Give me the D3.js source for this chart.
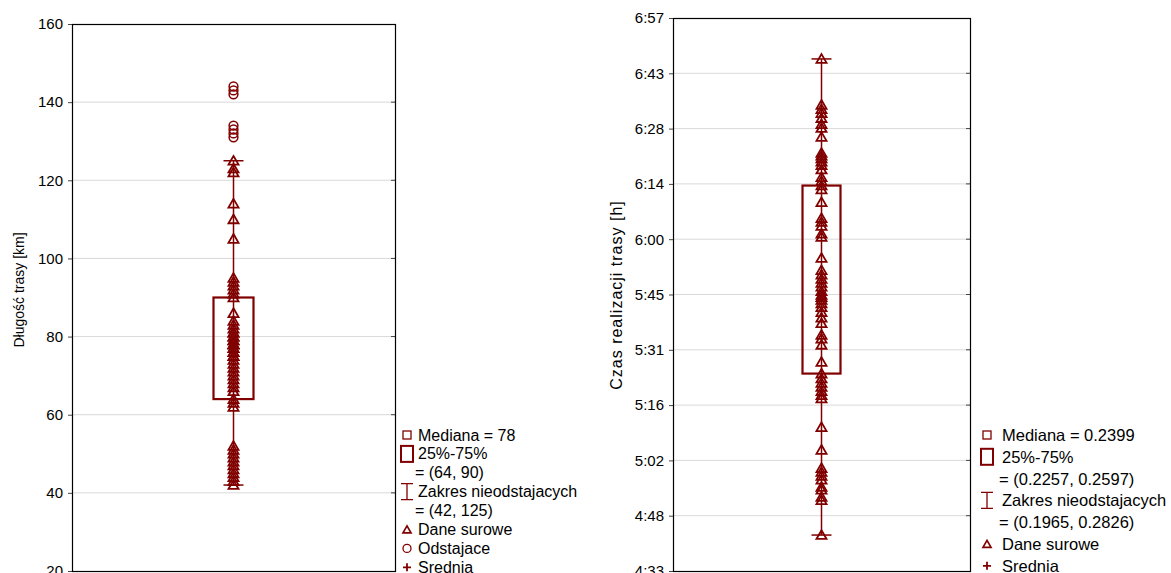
<!DOCTYPE html>
<html>
<head>
<meta charset="utf-8">
<script src="https://cdn.jsdelivr.net/npm/d3@7/dist/d3.min.js"></script>
<style>
  html, body { margin: 0; padding: 0; background: #fff; }
  svg { display: block; font-family: "Liberation Sans", Arial, sans-serif; }
</style>
</head>
<body>
<svg id="chart" width="1171" height="573"></svg>
<script>
// Route length [km]: whisker-range raw values and outliers
const lengthRaw = [125, 123, 122, 114, 110, 105, 95, 94, 93, 92, 91, 90, 86, 84, 83, 82, 81, 81,
  80, 80, 79, 79, 78, 78, 78, 77, 77, 76, 76, 75, 75, 74, 73, 72, 71, 70, 69, 68, 67, 66,
  64, 63, 62, 52, 51, 50, 49, 48, 47, 46, 45, 44, 43, 42];
const lengthOutliers = [144, 143, 142, 134, 133, 132, 131];
const lengthStats = { median: 78, q1: 64, q3: 90, lo: 42, hi: 125, mean: 79 };
const lengthTicks = [20, 40, 60, 80, 100, 120, 140, 160];

// Route completion time as a fraction of a day
const timeRaw = [0.2826, 0.2743, 0.2735, 0.2728, 0.2719, 0.2708, 0.2701, 0.2685, 0.2656, 0.2651,
  0.2646, 0.2640, 0.2634, 0.2626, 0.2612, 0.2605, 0.2597, 0.2590, 0.2567, 0.2538, 0.2531, 0.2524,
  0.2510, 0.2504, 0.2466, 0.2444, 0.2436, 0.2428, 0.2421, 0.2414, 0.2406, 0.2399, 0.2395, 0.2390,
  0.2384, 0.2377, 0.2368, 0.2358, 0.2348, 0.2327, 0.2320, 0.2309, 0.2278, 0.2257, 0.2248, 0.2240,
  0.2233, 0.2225, 0.2218, 0.2212, 0.2160, 0.2119, 0.2086, 0.2079, 0.2072, 0.2065, 0.2052, 0.2047,
  0.2034, 0.2028, 0.1965];
const timeOutliers = [];
const timeStats = { median: 0.2399, q1: 0.2257, q3: 0.2597, lo: 0.1965, hi: 0.2826, mean: 0.2405 };
const timeTicks = [0.19, 0.20, 0.21, 0.22, 0.23, 0.24, 0.25, 0.26, 0.27, 0.28, 0.29];

const legendLength = [
  { sym: "median", lines: ["Mediana = 78"] },
  { sym: "box", lines: ["25%-75%", "= (64, 90)"] },
  { sym: "whisker", lines: ["Zakres nieodstajacych", "= (42, 125)"] },
  { sym: "tri", lines: ["Dane surowe"] },
  { sym: "circle", lines: ["Odstajace"] },
  { sym: "plus", lines: ["Srednia"] }
];
const legendTime = [
  { sym: "median", lines: ["Mediana = 0.2399"] },
  { sym: "box", lines: ["25%-75%", "= (0.2257, 0.2597)"] },
  { sym: "whisker", lines: ["Zakres nieodstajacych", "= (0.1965, 0.2826)"] },
  { sym: "tri", lines: ["Dane surowe"] },
  { sym: "plus", lines: ["Srednia"] }
];

const RED = "#800000";
const svg = d3.select("#chart");

const fmtTime = v => {
  const m = Math.floor(v * 1440 + 1e-6);
  return Math.floor(m / 60) + ":" + String(m % 60).padStart(2, "0");
};

const triPath = d3.symbol().type(d3.symbolTriangle).size(44)();

function drawPanel(cfg) {
  const g = svg.append("g");
  const y = d3.scaleLinear().domain(cfg.domain).range([cfg.bottom, cfg.top]);
  const x = d3.scalePoint().domain(["v"]).range([cfg.left, cfg.right]).padding(0.5);
  const cx = x("v");

  // grid
  g.append("g").selectAll("line").data(cfg.ticks.slice(1, -1)).join("line")
    .attr("x1", cfg.left).attr("x2", cfg.right)
    .attr("y1", d => y(d)).attr("y2", d => y(d))
    .attr("stroke", "#d9d9d9").attr("stroke-width", 1);

  // left axis
  const axis = d3.axisLeft(y).tickValues(cfg.ticks).tickSize(4).tickPadding(5)
    .tickFormat(cfg.fmt);
  const ag = g.append("g").attr("transform", `translate(${cfg.left},0)`).call(axis);
  ag.select(".domain").remove();
  ag.selectAll(".tick line").attr("stroke", "#444");
  ag.selectAll(".tick text").attr("font-size", 15).attr("fill", "#000")
    .attr("font-family", "Liberation Sans, Arial, sans-serif");

  // right side inner ticks
  g.append("g").selectAll("line").data(cfg.ticks.slice(1, -1)).join("line")
    .attr("x1", cfg.right - 4).attr("x2", cfg.right)
    .attr("y1", d => y(d)).attr("y2", d => y(d))
    .attr("stroke", "#444");

  // frame
  g.append("rect").attr("x", cfg.left + 0.5).attr("y", cfg.top + 0.5)
    .attr("width", cfg.right - cfg.left).attr("height", cfg.bottom - cfg.top)
    .attr("fill", "none").attr("stroke", "#000").attr("stroke-width", 1.2);

  // y title
  g.append("text").attr("transform", `translate(${cfg.titleX},${cfg.titleY}) rotate(-90)`)
    .attr("text-anchor", "middle").attr("dominant-baseline", "central")
    .attr("font-size", cfg.titleSize).attr("letter-spacing", cfg.titleSpacing)
    .text(cfg.title);

  const s = cfg.stats;
  // whisker
  g.append("line").attr("x1", cx).attr("x2", cx).attr("y1", y(s.lo)).attr("y2", y(s.hi))
    .attr("stroke", RED).attr("stroke-width", 1.5);
  g.selectAll(".cap").data([s.lo, s.hi]).join("line")
    .attr("x1", cx - 10).attr("x2", cx + 10).attr("y1", d => y(d)).attr("y2", d => y(d))
    .attr("stroke", RED).attr("stroke-width", 1.5);
  // box
  g.append("rect").attr("x", cx - cfg.boxW / 2).attr("y", y(s.q3))
    .attr("width", cfg.boxW).attr("height", y(s.q1) - y(s.q3))
    .attr("fill", "none").attr("stroke", RED).attr("stroke-width", 2.2);
  // median and mean
  g.append("rect").attr("x", cx - 3).attr("y", y(s.median) - 3).attr("width", 6).attr("height", 6)
    .attr("fill", "none").attr("stroke", RED).attr("stroke-width", 1.2);
  g.append("path").attr("d", `M${cx - 4},${y(s.mean)}h8M${cx},${y(s.mean) - 4}v8`)
    .attr("stroke", RED).attr("stroke-width", 1.5);

  // raw data
  g.append("g").selectAll("path").data(cfg.raw).join("path")
    .attr("d", triPath).attr("transform", d => `translate(${cx},${y(d) + 1})`)
    .attr("fill", "none").attr("stroke", RED).attr("stroke-width", 1.8);
  // outliers
  g.append("g").selectAll("circle").data(cfg.outliers).join("circle")
    .attr("cx", cx).attr("cy", d => y(d)).attr("r", 4.4)
    .attr("fill", "none").attr("stroke", RED).attr("stroke-width", 1.5);

  // legend
  const lg = g.append("g").attr("font-size", cfg.legendSize);
  let ly = cfg.legendY;
  cfg.legend.forEach(item => {
    const mx = cfg.legendMarkX;
    const sg = lg.append("g").attr("transform", `translate(${mx},${ly})`);
    if (item.sym === "median") {
      sg.append("rect").attr("x", -4).attr("y", -4).attr("width", 8).attr("height", 8)
        .attr("fill", "none").attr("stroke", RED).attr("stroke-width", 1.3);
    } else if (item.sym === "box") {
      sg.append("rect").attr("x", -6).attr("y", -8).attr("width", 12).attr("height", 16)
        .attr("fill", "none").attr("stroke", RED).attr("stroke-width", 2);
    } else if (item.sym === "whisker") {
      sg.append("path").attr("d", "M-6,-8h12M0,-8v16M-6,8h12")
        .attr("fill", "none").attr("stroke", RED).attr("stroke-width", 1.3);
    } else if (item.sym === "tri") {
      sg.append("path").attr("d", d3.symbol().type(d3.symbolTriangle).size(28)())
        .attr("transform", "translate(0,1)")
        .attr("fill", "none").attr("stroke", RED).attr("stroke-width", 1.7);
    } else if (item.sym === "circle") {
      sg.append("circle").attr("r", 4).attr("fill", "none").attr("stroke", RED).attr("stroke-width", 1.3);
    } else if (item.sym === "plus") {
      sg.append("path").attr("d", "M-4,0h8M0,-4v8").attr("stroke", RED).attr("stroke-width", 1.8);
    }
    item.lines.forEach((t, i) => {
      lg.append("text").attr("x", i === 0 ? cfg.legendTextX : cfg.legendTextX - 3)
        .attr("y", ly + i * cfg.legendStep).attr("dominant-baseline", "central").text(t);
    });
    ly += item.lines.length * cfg.legendStep;
  });
}

drawPanel({
  domain: [20, 160], ticks: lengthTicks, fmt: d3.format("d"),
  left: 72, right: 395, top: 24, bottom: 571, boxW: 40,
  stats: lengthStats, raw: lengthRaw, outliers: lengthOutliers,
  title: "Długość trasy [km]", titleX: 19, titleY: 290, titleSize: 14, titleSpacing: 0,
  legend: legendLength, legendMarkX: 407, legendTextX: 418, legendY: 435, legendStep: 18.9,
  legendSize: 16
});

drawPanel({
  domain: [0.19, 0.29], ticks: timeTicks, fmt: fmtTime,
  left: 673, right: 970, top: 18, bottom: 571, boxW: 38,
  stats: timeStats, raw: timeRaw, outliers: timeOutliers,
  title: "Czas realizacji trasy [h]", titleX: 616, titleY: 295, titleSize: 16, titleSpacing: 1,
  legend: legendTime, legendMarkX: 987, legendTextX: 1002, legendY: 435, legendStep: 21.8,
  legendSize: 16.5
});
</script>
</body>
</html>
